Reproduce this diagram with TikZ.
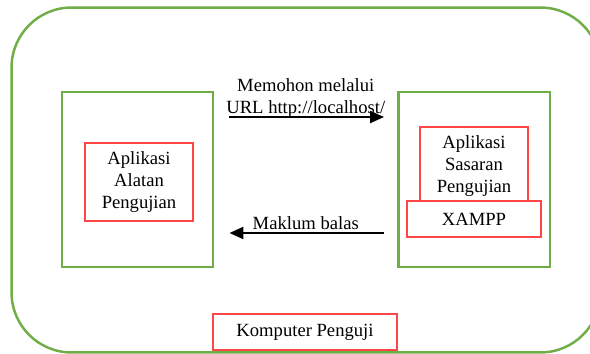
\documentclass[tikz,border=0pt]{standalone}
\usepackage{fontspec}
\setmainfont{Liberation Serif}
\usetikzlibrary{arrows.meta, positioning}

\definecolor{boxgreen}{RGB}{112,173,71}
\definecolor{boxred}{RGB}{255,70,70}

\begin{document}
\begin{tikzpicture}[
      x=0.02cm, y=-0.02cm,
      every node/.style={font=\fontsize{10.6}{12.5}\selectfont, align=center},
      hostbox/.style={draw=boxgreen, line width=1.4pt, minimum width=3.03cm, minimum height=3.5cm},
      appbox/.style={draw=boxred, line width=0.8pt, fill=white, inner sep=0pt},
      msg/.style={-{Triangle[length=0.28cm, width=0.24cm]}, line width=1.3pt}
    ]
      \useasboundingbox (0,0) rectangle (590,354);

      \node (pc) [draw=boxgreen, line width=1.4pt, rounded corners=1.2cm,
        minimum width=11.78cm, minimum height=6.9cm] at (306,180) {};

      \node (tester) [hostbox] at (137.5,179.5) {};
      \node (target) [hostbox] at (474,179.5) {};

      \node (toolapp) [appbox, minimum width=2.16cm, minimum height=1.56cm] at (139,182)
        {Aplikasi\\Alatan\\Pengujian};
      \node (targetapp) [appbox, minimum width=2.16cm, minimum height=1.56cm] at (474,166)
        {Aplikasi\\Sasaran\\Pengujian};
      \node (xampp) [appbox, minimum width=2.68cm, minimum height=0.72cm] at (474,219) {XAMPP};
      \node (pclabel) [appbox, minimum width=3.68cm, minimum height=0.72cm] at (305,332) {Komputer Penguji};

      \coordinate (req) at (0,117);
      \coordinate (resp) at (0,233);

      \draw[msg, shorten <=0.3cm, shorten >=0.26cm] (tester.east |- req) -- (target.west |- req)
        node[midway, above=-1pt, inner sep=0pt] {Memohon melalui\\URL http://localhost/};
      \draw[msg, shorten <=0.26cm, shorten >=0.3cm] (target.west |- resp) -- (tester.east |- resp)
        node[midway, above=0pt, inner sep=1pt] {Maklum balas};
    \end{tikzpicture}
\end{document}
